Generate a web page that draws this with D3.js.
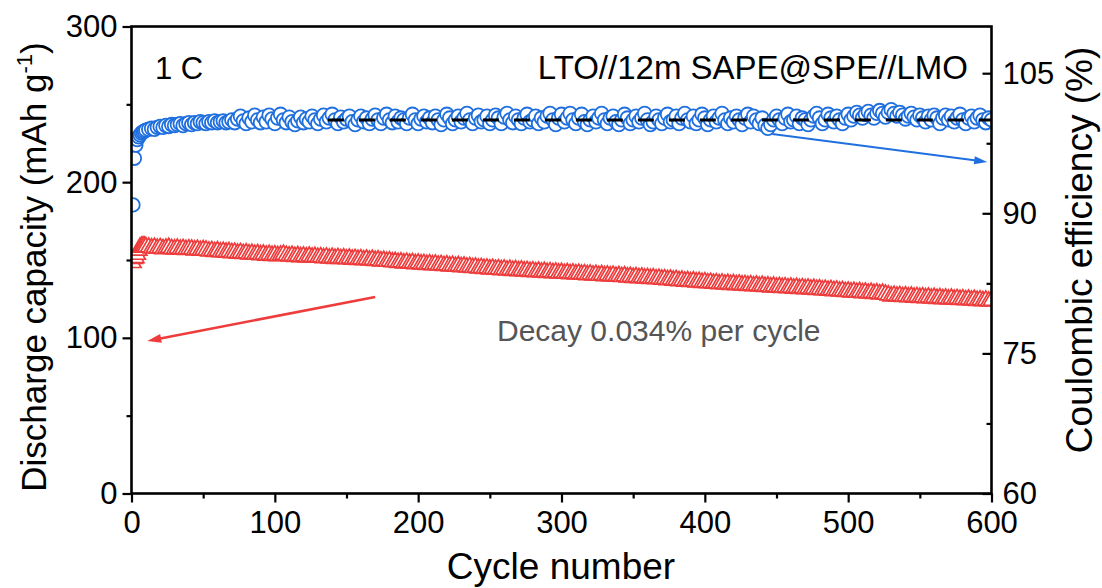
<!DOCTYPE html>
<html><head><meta charset="utf-8">
<script src="https://cdn.jsdelivr.net/npm/d3@7"></script>
<style>
html,body{margin:0;padding:0;background:#fff;}
svg text{font-family:"Liberation Sans",Arial,sans-serif;}
</style></head>
<body><svg id="c" width="1102" height="588"></svg>
<script>
// cycle numbers: every cycle for 1-10, then every 2nd cycle
const cycles = d3.range(1, 11).concat(d3.range(12, 601, 2));

// Discharge capacity (mAh g-1)
const capacity = [
148.2,150.8,151.3,153.5,156.2,158.1,158.6,159.0,158.8,158.4,
158.2,157.6,158.0,157.4,157.8,157.1,157.5,157.9,157.2,157.0,
157.4,156.8,157.2,156.6,157.0,156.9,156.3,156.7,156.1,156.5,
156.2,155.6,155.9,155.3,155.8,155.1,155.4,154.9,155.2,154.6,
154.8,154.2,154.6,154.0,154.4,153.8,154.1,153.5,153.9,153.3,
153.6,153.0,153.4,152.8,153.2,152.6,153.0,153.5,152.9,152.5,
152.8,152.2,152.6,152.0,152.4,151.8,152.3,151.7,152.1,151.6,
151.9,151.3,151.7,151.1,151.5,150.9,151.4,150.8,151.2,150.6,
151.0,150.4,150.8,150.2,150.6,150.0,150.4,149.8,150.2,149.6,
149.9,149.3,149.6,149.0,149.3,148.7,148.9,148.3,148.6,148.0,
148.4,147.8,148.1,147.5,147.9,147.3,147.6,147.0,147.4,146.8,
147.2,146.6,146.9,146.3,146.7,146.1,146.4,145.8,146.2,145.6,
145.9,145.3,145.6,145.0,145.3,144.7,145.0,144.4,144.7,144.1,
144.5,143.9,144.2,143.6,144.0,143.4,143.8,143.2,143.6,143.0,
143.4,142.8,143.1,142.5,142.9,142.3,142.7,142.1,142.5,141.9,
142.3,141.7,142.1,141.5,141.9,141.3,141.7,141.1,141.5,140.9,
141.3,140.7,141.0,140.4,140.8,140.2,140.6,140.0,140.4,139.8,
140.2,139.6,140.0,139.4,139.8,139.2,139.6,139.0,139.3,138.7,
139.1,138.5,138.9,138.3,138.6,138.0,138.4,137.8,138.1,137.5,
137.8,137.2,137.5,136.9,137.2,136.6,136.9,136.3,136.6,136.0,
136.4,135.8,136.1,135.5,135.8,135.2,135.5,134.9,135.2,134.6,
135.0,134.4,134.8,134.2,134.6,134.0,134.4,133.8,134.1,133.5,
133.9,133.3,133.7,133.1,133.5,132.9,133.2,132.6,133.0,132.4,
132.8,132.2,132.6,132.0,132.4,131.8,132.2,131.6,132.0,131.4,
131.8,131.2,131.6,131.0,131.3,130.7,131.0,130.4,130.8,130.2,
130.5,129.9,130.2,129.6,129.9,129.3,129.7,129.1,129.5,128.9,
129.2,128.6,129.0,128.4,128.7,128.1,128.5,127.9,127.4,126.8,
127.2,126.6,127.0,126.4,126.8,126.2,126.6,126.0,126.4,125.8,
126.2,125.6,126.0,125.4,125.8,125.2,125.6,125.0,125.4,124.8,
125.3,124.7,125.1,124.5,124.9,124.3,124.7,124.1,124.5,123.9,
124.3,123.7,124.1,123.5,123.9
];

// Coulombic efficiency (%)
const efficiency = [
90.9,95.9,97.3,97.9,98.2,98.4,98.6,98.7,98.8,98.9,
99.0,99.1,99.0,99.2,99.3,99.2,99.4,99.3,99.5,99.4,
99.5,99.6,99.4,99.6,99.7,99.5,99.7,99.6,99.8,99.7,
99.6,99.8,99.7,99.9,99.7,99.8,99.9,99.7,99.8,100.0,
99.7,100.1,100.4,99.9,99.6,100.2,99.8,100.5,100.0,99.7,
100.3,99.8,100.5,100.1,99.6,100.2,100.6,100.0,99.7,100.3,
99.8,99.5,99.9,100.3,99.7,100.1,99.8,100.4,100.0,99.6,
100.1,100.5,99.8,100.2,100.6,100.0,99.6,100.3,99.8,100.1,
100.4,99.8,99.5,100.0,100.4,99.8,100.2,99.6,100.1,100.5,
100.0,99.6,100.2,100.6,100.0,99.7,100.4,99.8,100.2,100.0,
99.6,100.2,100.6,100.0,99.6,100.1,100.4,99.8,100.2,99.7,
100.4,100.0,99.5,100.0,100.6,100.2,99.6,100.0,100.4,99.8,
100.2,100.7,100.0,99.6,100.2,100.5,99.8,100.0,100.4,99.6,
100.0,100.5,100.2,99.6,100.3,100.7,100.0,99.7,100.4,100.0,
99.6,100.2,100.6,99.8,100.0,100.4,99.6,100.2,99.8,100.4,
100.7,100.0,99.5,100.2,100.6,99.8,100.2,100.7,100.0,99.6,
100.2,100.6,99.8,99.5,100.0,100.4,99.8,100.2,100.7,100.0,
99.6,100.2,100.4,99.8,99.5,100.0,100.6,100.2,99.6,100.0,
100.4,99.8,100.2,100.7,100.0,99.5,99.8,100.4,100.0,99.6,
100.2,100.6,99.8,100.0,100.4,99.6,100.2,100.7,100.0,99.8,
100.4,99.6,100.0,100.6,100.2,99.5,100.0,100.4,99.8,100.2,
100.7,100.0,99.6,100.2,99.8,100.4,100.0,99.5,100.2,100.6,
99.8,100.4,100.0,99.6,100.2,99.4,99.1,99.5,100.0,100.4,
100.0,99.6,100.2,100.6,99.8,100.0,100.4,99.6,100.2,100.0,
99.5,100.0,100.4,100.7,100.2,99.6,100.0,100.6,100.2,99.8,
100.4,100.0,99.6,100.2,100.6,100.0,100.4,100.8,100.5,100.2,
100.6,100.9,100.5,100.2,100.7,101.0,100.7,100.3,100.8,101.1,
100.7,100.4,100.8,100.5,100.1,100.4,100.7,100.3,100.0,100.5,
100.2,99.8,100.4,100.0,100.5,100.2,99.6,100.2,100.5,100.0,
100.4,99.8,100.2,100.6,100.0,99.6,100.2,100.4,99.8,100.2,
100.5,100.0,99.7,100.2,100.0
];

const xTicks = [0,100,200,300,400,500,600];
const xMinor = [50,150,250,350,450,550];
const yLTicks = [0,100,200,300];
const yLMinor = [50,150,250];
const yRTicks = [60,75,90,105];
const yRMinor = [67.5,82.5,97.5];

// reference line (average CE) and annotation arrows in data units
const ceRef = {from:137, to:600, value:100};
const blueArrow = {x1:447, y1:98.5, x2:597, y2:95.5};
const redArrow = {x1:170, y1:126.2, x2:11, y2:98};

const BLUE = "#1f6fde", RED = "#ee3c3c";
const svg = d3.select("#c");
const L=131.5, R=991.5, T=26.5, B=493.5;
const x = d3.scaleLinear([0,600],[L,R]);
const yL = d3.scaleLinear([0,300],[B,T]);
const yR = d3.scaleLinear([60,110],[B,T]);

svg.append("defs").append("clipPath").attr("id","clip")
  .append("rect").attr("x",L).attr("y",T).attr("width",R-L).attr("height",B-T);

const plot = svg.append("g").attr("clip-path","url(#clip)");

// capacity triangles
const tri = d3.symbol().type(d3.symbolTriangle).size(115);
plot.append("g").selectAll("path").data(capacity).join("path")
  .attr("d", tri)
  .attr("transform",(d,i)=>`translate(${x(cycles[i])},${yL(d)})`)
  .attr("fill","#fff").attr("stroke",RED).attr("stroke-width",1.7);

// efficiency circles
plot.append("g").selectAll("circle").data(efficiency).join("circle")
  .attr("cx",(d,i)=>x(cycles[i])).attr("cy",d=>yR(d)).attr("r",6.8)
  .attr("fill","#fff").attr("stroke",BLUE).attr("stroke-width",1.8);

// dashed reference
plot.append("line")
  .attr("x1",x(ceRef.from)).attr("x2",x(ceRef.to))
  .attr("y1",yR(ceRef.value)).attr("y2",yR(ceRef.value))
  .attr("stroke","#000").attr("stroke-width",3).attr("stroke-dasharray","16,15");

function arrow(x1,y1,x2,y2,color,w,hl,hw){
  const a=Math.atan2(y2-y1,x2-x1);
  const bx=x2-hl*Math.cos(a), by=y2-hl*Math.sin(a);
  svg.append("line").attr("x1",x1).attr("y1",y1).attr("x2",bx+2*Math.cos(a)).attr("y2",by+2*Math.sin(a))
    .attr("stroke",color).attr("stroke-width",w);
  const px=-Math.sin(a)*hw/2, py=Math.cos(a)*hw/2;
  svg.append("path").attr("d",`M${x2},${y2}L${bx+px},${by+py}L${bx-px},${by-py}Z`).attr("fill",color);
}
arrow(x(blueArrow.x1),yR(blueArrow.y1),x(blueArrow.x2),yR(blueArrow.y2),BLUE,2,13,8);
arrow(x(redArrow.x1),yL(redArrow.y1),x(redArrow.x2),yL(redArrow.y2),RED,2.5,14,9);

// axes
const FS = "31px";
function style(g){
  g.select(".domain").remove();
  g.selectAll("line").attr("stroke","#000").attr("stroke-width",2.2);
  g.selectAll("text").attr("font-size",FS).attr("fill","#000").attr("font-family","Liberation Sans, Arial, sans-serif");
}
svg.append("g").attr("transform",`translate(0,${B})`)
  .call(d3.axisBottom(x).tickValues(xTicks).tickSize(9).tickPadding(8).tickFormat(d3.format("d"))).call(style);
svg.append("g").attr("transform",`translate(0,${B})`)
  .call(d3.axisBottom(x).tickValues(xMinor).tickSize(5).tickFormat("")).call(style);
svg.append("g").attr("transform",`translate(${L},0)`)
  .call(d3.axisLeft(yL).tickValues(yLTicks).tickSize(9).tickPadding(5).tickFormat(d3.format("d"))).call(style);
svg.append("g").attr("transform",`translate(${L},0)`)
  .call(d3.axisLeft(yL).tickValues(yLMinor).tickSize(5).tickFormat("")).call(style);
svg.append("g").attr("transform",`translate(${R},0)`)
  .call(d3.axisRight(yR).tickValues(yRTicks).tickSizeInner(-9).tickSizeOuter(0).tickPadding(11).tickFormat(d3.format("d"))).call(style);
svg.append("g").attr("transform",`translate(${R},0)`)
  .call(d3.axisRight(yR).tickValues(yRMinor).tickSizeInner(-5).tickSizeOuter(0).tickFormat("")).call(style);

// frame
svg.append("rect").attr("x",L).attr("y",T).attr("width",R-L).attr("height",B-T)
  .attr("fill","none").attr("stroke","#000").attr("stroke-width",2.6);

// titles
svg.append("text").attr("x",561).attr("y",579).attr("text-anchor","middle")
  .attr("font-size","37px").text("Cycle number");
const lt = svg.append("text").attr("transform","translate(46,267) rotate(-90)")
  .attr("text-anchor","middle").attr("font-size","35px");
lt.append("tspan").text("Discharge capacity (mAh g");
lt.append("tspan").attr("font-size","22px").attr("dy","-14").text("-1");
lt.append("tspan").attr("dy","14").text(")");
svg.append("text").attr("transform","translate(1092,250) rotate(-90)")
  .attr("text-anchor","middle").attr("font-size","37px").text("Coulombic efficiency (%)");

// annotations
svg.append("text").attr("x",155).attr("y",79).attr("font-size","31px").text("1 C");
svg.append("text").attr("x",968).attr("y",79).attr("text-anchor","end").attr("font-size","33px")
  .text("LTO//12m SAPE@SPE//LMO");
svg.append("text").attr("x",497).attr("y",341).attr("font-size","30px").attr("fill","#555")
  .text("Decay 0.034% per cycle");
</script></body></html>
